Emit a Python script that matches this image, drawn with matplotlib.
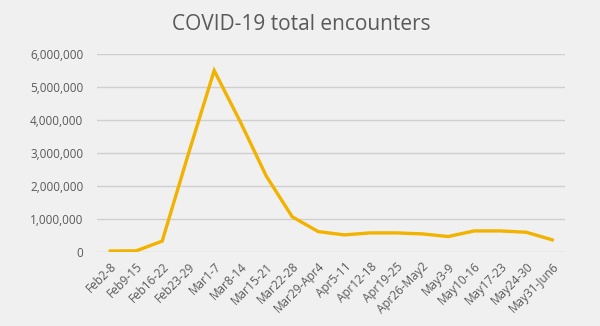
import numpy as np
import matplotlib.pyplot as plt
from matplotlib.ticker import FuncFormatter

plt.rcParams['font.family'] = ['Open Sans', 'DejaVu Sans']

weeks = ['Feb2-8', 'Feb9-15', 'Feb16-22', 'Feb23-29', 'Mar1-7', 'Mar8-14',
         'Mar15-21', 'Mar22-28', 'Mar29-Apr4', 'Apr5-11', 'Apr12-18',
         'Apr19-25', 'Apr26-May2', 'May3-9', 'May10-16', 'May17-23',
         'May24-30', 'May31-Jun6']
encounters = [20000, 25000, 320000, 2950000, 5500000, 3950000,
              2300000, 1060000, 610000, 510000, 570000,
              570000, 540000, 460000, 630000, 630000,
              590000, 360000]

bg = '#f0f0f0'
fig = plt.figure(figsize=(6, 3.26), dpi=100, facecolor=bg)
ax = fig.add_axes([0.162, 0.228, 0.78, 0.606], facecolor=bg)

x = np.arange(len(weeks))
ax.plot(x, encounters, color='#f2b200', lw=2.4, solid_joinstyle='miter')

ax.set_xlim(-0.5, len(weeks) - 0.5)
ax.set_ylim(0, 6000000)
ax.set_yticks(np.arange(0, 6000001, 1000000))
ax.yaxis.set_major_formatter(FuncFormatter(lambda v, p: f'{int(v):,}'))
ax.grid(axis='y', color='#cfcfcf', lw=1)
ax.set_axisbelow(True)
for s in ax.spines.values():
    s.set_visible(False)
ax.tick_params(length=0, colors='#595959', labelsize=8.5)
ax.tick_params(axis='y', pad=10)
ax.tick_params(axis='x', pad=6)
ax.set_xticks(x)
ax.set_xticklabels(weeks, rotation=45, ha='right', rotation_mode='anchor')

fig.text(0.502, 0.908, 'COVID-19 total encounters', ha='center', va='baseline',
         fontsize=15, color='#595959')

fig.savefig('out.png', dpi=100, facecolor=bg)
